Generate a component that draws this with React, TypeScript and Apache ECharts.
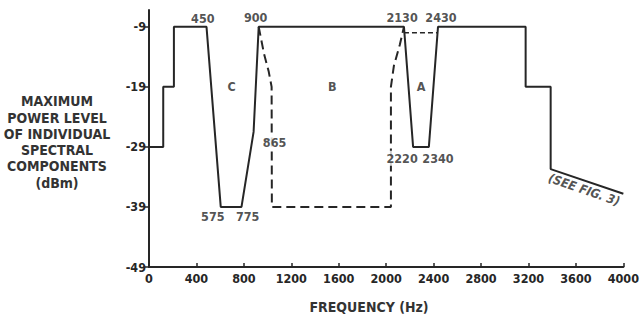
import React, { useEffect, useRef } from "react";
import * as echarts from "echarts";

const FONT = '"Liberation Sans Narrow", "DejaVu Sans Condensed", "Roboto Condensed", sans-serif';
const INK = "#262626";

// Frequency tick labels (Hz) and level ticks (dBm)
const freqTicks = [0, 400, 800, 1200, 1600, 2000, 2400, 2800, 3200, 3600, 4000];
const levelTicks = [-49, -39, -29, -19, -9];

// Solid mask outline: [frequency Hz, level dBm]
const solidMask: [number, number][] = [
  [0, -29], [120, -29], [120, -19], [210, -19], [210, -9], [485, -9],
  [605, -39], [780, -39], [882, -26.5], [925, -9], [2150, -9],
  [2227, -29], [2360, -29], [2437, -9], [3176, -9], [3176, -19],
  [3387, -19], [3387, -32.7], [4000, -36.8],
];

// Dashed notch B outline
const dashedB: [number, number][] = [
  [925, -9], [970, -13.5], [1010, -16.5], [1034, -19], [1036, -39],
  [2040, -39], [2040, -19], [2065, -15.5], [2115, -12], [2150, -9],
];

// Dashed top across notch A
const dashedA: [number, number][] = [[2150, -10], [2437, -10]];

// Annotations: [frequency, level, text, masks the line beneath]
const annotations: [number, number, string, boolean][] = [
  [454, -7.6, "450", false], [899, -7.5, "900", false], [2134, -7.5, "2130", false], [2462, -7.5, "2430", false],
  [538, -40.6, "575", false], [832, -40.6, "775", false], [1059, -28.3, "865", true],
  [2134, -30.9, "2220", true], [2437, -30.9, "2340", false],
  [697, -19, "C", false], [1546, -19, "B", false], [2294, -19, "A", false],
];
const seeFig: [number, number, string] = [3670, -36.1, "(SEE FIG. 3)"];

const yTitle = "MAXIMUM\nPOWER LEVEL\nOF INDIVIDUAL\nSPECTRAL\nCOMPONENTS\n(dBm)";
const xTitle = "FREQUENCY (Hz)";

export default function App() {
  const ref = useRef<HTMLDivElement>(null);
  useEffect(() => {
    document.body.style.margin = "0";
    const chart = echarts.init(ref.current!, null, { renderer: "svg" });
    chart.setOption({
      animation: false,
      backgroundColor: "#ffffff",
      grid: { left: 149, right: 17, top: 10, bottom: 47 },
      xAxis: {
        type: "value",
        min: 0,
        max: 4000,
        interval: 400,
        axisLine: { onZero: false, lineStyle: { color: INK, width: 2 } },
        axisTick: { customValues: freqTicks, inside: true, length: 4, lineStyle: { color: INK, width: 1.5 } },
        axisLabel: {
          customValues: freqTicks,
          formatter: (v: number) => String(v),
          fontFamily: FONT,
          fontSize: 12.5,
          fontWeight: "bold",
          color: INK,
          margin: 5,
        },
        splitLine: { show: false },
      },
      yAxis: {
        type: "value",
        min: -49,
        max: -6.2,
        axisLine: { onZero: false, lineStyle: { color: INK, width: 2 } },
        axisTick: { customValues: levelTicks, length: 4, lineStyle: { color: INK, width: 1.5 } },
        axisLabel: {
          customValues: levelTicks,
          formatter: (v: number) => String(v),
          fontFamily: FONT,
          fontSize: 12.5,
          fontWeight: "bold",
          color: INK,
          margin: 3,
        },
        splitLine: { show: false },
      },
      graphic: [
        {
          type: "text",
          x: 57,
          y: 142,
          style: {
            text: yTitle,
            fontFamily: FONT,
            fontSize: 14,
            fontWeight: "bold",
            fill: "#333333",
            align: "center",
            verticalAlign: "middle",
            lineHeight: 16.3,
          },
        },
        {
          type: "text",
          x: 369,
          y: 307,
          style: {
            text: xTitle,
            fontFamily: FONT,
            fontSize: 14,
            fontWeight: "bold",
            fill: "#333333",
            align: "center",
            verticalAlign: "middle",
          },
        },
      ],
      series: [
        {
          type: "line",
          data: solidMask,
          symbol: "none",
          lineStyle: { color: INK, width: 2 },
        },
        {
          type: "line",
          data: dashedB,
          symbol: "none",
          lineStyle: { color: INK, width: 2, type: [9, 5] },
        },
        {
          type: "line",
          data: dashedA,
          symbol: "none",
          lineStyle: { color: INK, width: 1.5, type: [5, 3] },
        },
        {
          type: "scatter",
          symbolSize: 0,
          z: 5,
          data: annotations.map((a) => ({
            value: [a[0], a[1]],
            name: a[2],
            label: a[3] ? { backgroundColor: "#ffffff", padding: [1, 1] } : undefined,
          })),
          label: {
            show: true,
            position: "inside",
            formatter: (p: any) => p.name,
            fontFamily: FONT,
            fontSize: 12.5,
            fontWeight: "bold",
            color: INK,
          },
        },
        {
          type: "scatter",
          symbolSize: 0,
          data: [{ value: [seeFig[0], seeFig[1]], name: seeFig[2] }],
          label: {
            show: true,
            position: "inside",
            rotate: -19,
            formatter: (p: any) => p.name,
            fontFamily: FONT,
            fontSize: 12.5,
            fontStyle: "italic",
            fontWeight: "bold",
            color: INK,
          },
        },
      ],
    });
    return () => chart.dispose();
  }, []);
  return <div ref={ref} style={{ width: 642, height: 314 }} />;
}
